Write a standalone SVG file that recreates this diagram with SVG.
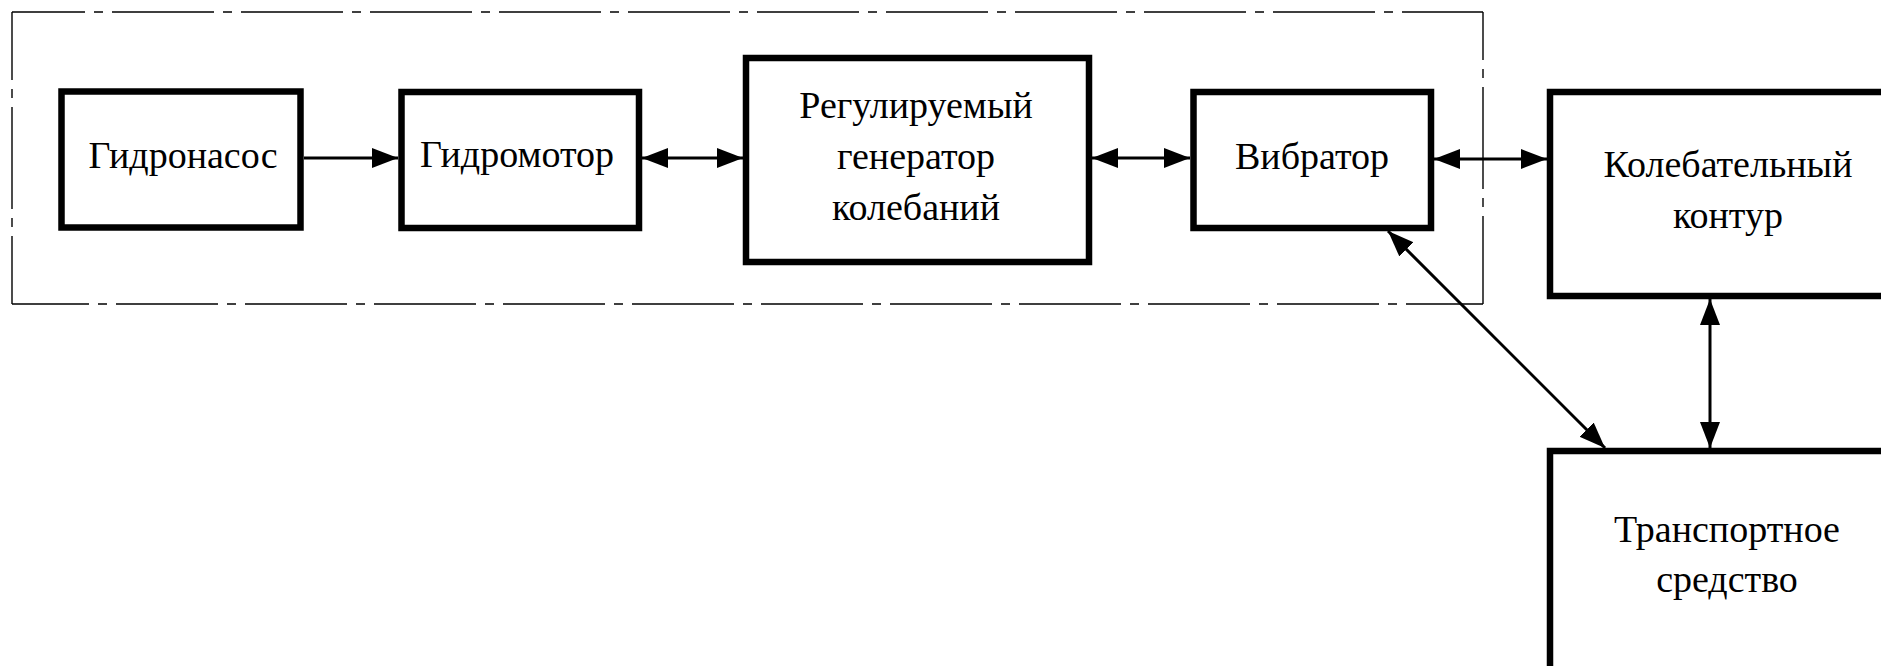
<svg xmlns="http://www.w3.org/2000/svg" width="1881" height="666" viewBox="0 0 1881 666">
<style>
.box{fill:#fff;stroke:#000;stroke-width:6.5}
.lbl{font-family:"Liberation Serif","Times New Roman",serif;font-size:38px;fill:#000;text-anchor:middle}
.frame{stroke:#000;stroke-width:1.4;fill:none;stroke-dasharray:102 9 9 9}
.conn{stroke:#000;stroke-width:3;fill:none;marker-end:url(#ah)}
.bi{marker-start:url(#ah)}
</style>
<defs>
<marker id="ah" markerUnits="userSpaceOnUse" markerWidth="27" markerHeight="21" refX="26" refY="10" orient="auto-start-reverse">
<path d="M0,0 L26,10 L0,20 Z" fill="#000"/>
</marker>
</defs>
<g id="frame">
<line class="frame" x1="12" y1="12" x2="1483" y2="12" stroke-dashoffset="29"/>
<line class="frame" x1="12" y1="12" x2="12" y2="304" stroke-dashoffset="34"/>
<line class="frame" x1="1483" y1="12" x2="1483" y2="304" stroke-dashoffset="54"/>
<line class="frame" x1="1483" y1="304" x2="12" y2="304" stroke-dashoffset="25"/>
</g>
<g id="n-gidronasos">
<rect class="box" x="61.5" y="91.5" width="239" height="136"/>
<text class="lbl" x="183" y="168">Гидронасос</text>
</g>
<g id="n-gidromotor">
<rect class="box" x="401.5" y="92" width="237.5" height="136"/>
<text class="lbl" x="517" y="167">Гидромотор</text>
</g>
<g id="n-generator">
<rect class="box" x="746" y="58" width="343" height="204"/>
<text class="lbl" x="916" y="118">Регулируемый</text>
<text class="lbl" x="916" y="169">генератор</text>
<text class="lbl" x="916" y="220">колебаний</text>
</g>
<g id="n-vibrator">
<rect class="box" x="1193.5" y="92" width="237.5" height="136"/>
<text class="lbl" x="1312" y="169">Вибратор</text>
</g>
<g id="n-kontur">
<rect class="box" x="1550" y="92" width="360" height="204"/>
<text class="lbl" x="1728" y="177">Колебательный</text>
<text class="lbl" x="1728" y="228">контур</text>
</g>
<g id="n-transport">
<rect class="box" x="1550" y="451" width="360" height="260"/>
<text class="lbl" x="1727" y="542">Транспортное</text>
<text class="lbl" x="1727" y="592">средство</text>
</g>
<g id="connectors">
<line class="conn" x1="304" y1="158" x2="398" y2="158"/>
<line class="conn bi" x1="642" y1="158" x2="743" y2="158"/>
<line class="conn bi" x1="1092" y1="158" x2="1190" y2="158"/>
<line class="conn bi" x1="1434" y1="159" x2="1547" y2="159"/>
<line class="conn bi" x1="1710" y1="299" x2="1710" y2="448"/>
<line class="conn bi" x1="1388" y1="231" x2="1605" y2="448"/>
</g>
</svg>
